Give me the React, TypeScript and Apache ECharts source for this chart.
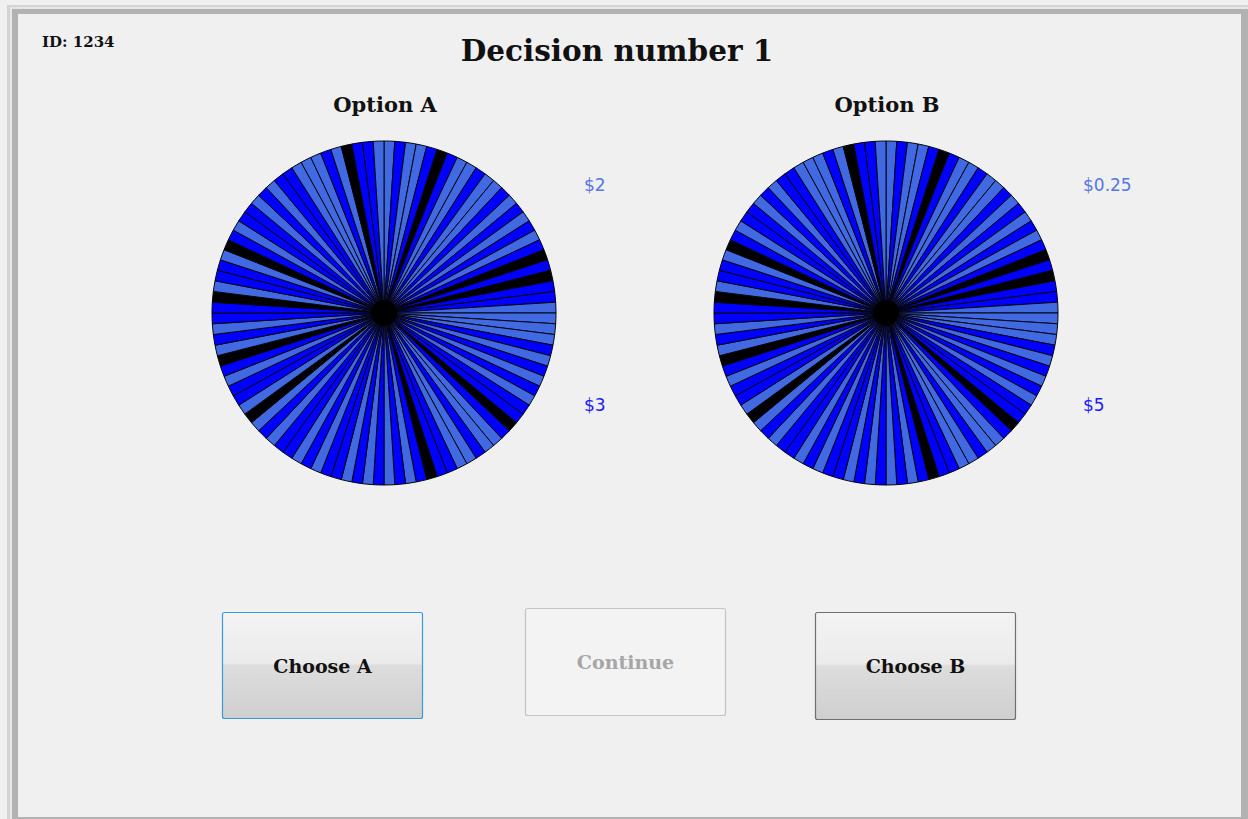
import React, { useEffect, useRef } from "react";
import * as echarts from "echarts";

// Wheel slices read clockwise from 12 o'clock: L = royal blue, B = blue, K = black
const wheelSlices: string[] = [
  "L","B","L","L","B","K","B","L","L","B","L","L","B","L","B","L","B","L","B","K","B","K","B","B","L",
  "L","L","L","B","L","B","L","B","L","B","B","K","B","L","L","B","L","L","B","B","K","B","L","B","L",
  "B","L","B","L","B","B","L","B","L","B","B","L","B","L","K","L","B","B","L","B","K","L","B","L","B",
  "B","K","L","B","B","L","K","B","L","B","B","L","B","L","B","B","L","L","L","B","L","K","B","B","L",
];
const sliceColors: Record<string, string> = { L: "#4169E1", B: "#0000FF", K: "#000000" };

const optionTitles = ["Option A", "Option B"];
const optionTopPrize = ["$2", "$0.25"];
const optionBottomPrize = ["$3", "$5"];
const buttonLabels = ["Choose A", "Continue", "Choose B"];

const SERIF = "'DejaVu Serif', 'Liberation Serif', serif";

export default function App() {
  const ref = useRef<HTMLDivElement>(null);
  useEffect(() => {
    if (!ref.current) return;
    const chart = echarts.init(ref.current, undefined, { renderer: "svg" });
    const pieData = wheelSlices.map((c, i) => ({
      name: "slice " + (i + 1),
      value: 1,
      itemStyle: { color: sliceColors[c] },
    }));
    const centers = [
      [384, 313],
      [886, 313],
    ];
    const series: any[] = [];
    centers.forEach((c, i) => {
      series.push({
        type: "pie",
        name: optionTitles[i],
        center: c,
        radius: [0, 172],
        startAngle: 90,
        clockwise: true,
        silent: true,
        label: { show: false },
        labelLine: { show: false },
        emphasis: { disabled: true },
        itemStyle: { borderColor: "#05050f", borderWidth: 1 },
        data: pieData,
      });
      // hub where the slice borders converge
      series.push({
        type: "pie",
        center: c,
        radius: [0, 13],
        silent: true,
        label: { show: false },
        labelLine: { show: false },
        emphasis: { disabled: true },
        itemStyle: { color: "#000" },
        data: [{ name: "hub", value: 1 }],
        z: 3,
      });
    });

    const grad = () =>
      new echarts.graphic.LinearGradient(0, 0, 0, 1, [
        { offset: 0, color: "#f3f3f3" },
        { offset: 0.48, color: "#ebebeb" },
        { offset: 0.5, color: "#dddddd" },
        { offset: 1, color: "#cfcfcf" },
      ]);

    const graphic: any[] = [
      // frame
      { type: "rect", shape: { x: 7, y: 5, width: 1241, height: 814 }, style: { fill: "#d4d4d4" }, z: -10 },
      { type: "rect", shape: { x: 10, y: 7, width: 1238, height: 812 }, style: { fill: "#e6e6e6" }, z: -10 },
      { type: "rect", shape: { x: 12, y: 9, width: 1236, height: 810 }, style: { fill: "#b2b2b2" }, z: -10 },
      { type: "rect", shape: { x: 18, y: 14, width: 1223, height: 803 }, style: { fill: "#f0f0f0" }, z: -10 },
      {
        type: "text", x: 42, y: 42,
        style: { text: "ID: 1234", font: `bold 15px ${SERIF}`, fill: "#111", textVerticalAlign: "middle" },
      },
      {
        type: "text", x: 617, y: 50,
        style: { text: "Decision number 1", font: `bold 29.5px ${SERIF}`, fill: "#111", textAlign: "center", textVerticalAlign: "middle" },
      },
    ];
    optionTitles.forEach((t, i) => {
      graphic.push({
        type: "text", x: centers[i][0] + 1, y: 104,
        style: { text: t, font: `bold 21px ${SERIF}`, fill: "#111", textAlign: "center", textVerticalAlign: "middle" },
      });
      graphic.push({
        type: "text", x: centers[i][0] + (i === 0 ? 200 : 197), y: 185,
        style: { text: optionTopPrize[i], font: "17px 'DejaVu Sans', sans-serif", fill: "#5577e6", textVerticalAlign: "middle" },
      });
      graphic.push({
        type: "text", x: centers[i][0] + (i === 0 ? 200 : 197), y: 405,
        style: { text: optionBottomPrize[i], font: "17px 'DejaVu Sans', sans-serif", fill: "#1a1aff", textVerticalAlign: "middle" },
      });
    });
    const buttons = [
      { x: 222.5, y: 612.5, w: 200, h: 106, stroke: "#3a9ad8", fill: grad(), text: "#111" },
      { x: 525.5, y: 608.5, w: 200, h: 107, stroke: "#c4c4c4", fill: "#f3f3f3", text: "#a6a6a6" },
      { x: 815.5, y: 612.5, w: 200, h: 107, stroke: "#707070", fill: grad(), text: "#111" },
    ];
    buttons.forEach((b, i) => {
      graphic.push({
        type: "rect",
        shape: { x: b.x, y: b.y, width: b.w, height: b.h, r: 2 },
        style: { fill: b.fill, stroke: b.stroke, lineWidth: 1.2 },
      });
      graphic.push({
        type: "text", x: b.x + b.w / 2, y: b.y + b.h / 2,
        style: { text: buttonLabels[i], font: `bold 19px ${SERIF}`, fill: b.text, textAlign: "center", textVerticalAlign: "middle" },
      });
    });

    chart.setOption({
      animation: false,
      backgroundColor: "#f0f0f0",
      series,
      graphic,
    });
    return () => chart.dispose();
  }, []);
  return (
    <div
      ref={ref}
      style={{ position: "absolute", left: 0, top: 0, width: 1248, height: 819 }}
    />
  );
}
